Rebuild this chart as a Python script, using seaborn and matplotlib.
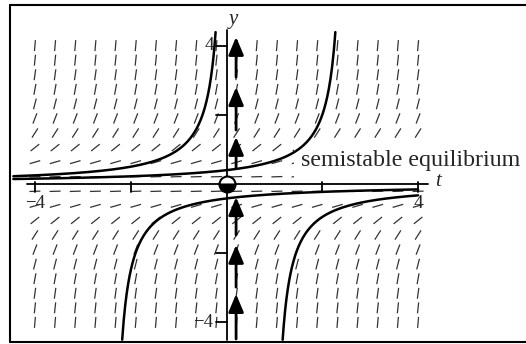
import numpy as np
import pandas as pd
import matplotlib
matplotlib.use("Agg")
import matplotlib.pyplot as plt
from matplotlib.collections import LineCollection
from matplotlib.lines import Line2D
import seaborn as sns

# Direction field of dy/dt = y^2 on a 20 x 20 grid over [-4, 4] x [-4, 4]
grid_t = np.linspace(-4, 4, 20)
grid_y = np.linspace(-4, 4, 20)

# Solution curves y = 1/(c - t): upper branches (start left, blow up) and lower branches
upper_c = [0.0, 2.5]
lower_c = [-2.4, 0.95]

# Phase-line arrows on the y axis (tail, tip), all pointing up
arrow_tails = [3.09, 1.56, 0.46, -1.47, -2.98, -4.48]
arrow_tips = [4.25, 2.80, 1.36, -0.38, -1.76, -3.18]

x_ticks = [-4, -2, 2, 4]
y_ticks = [-4, -2, 2, 4]
x_tick_labels = {-4: "\u22124", 4: "4"}
y_tick_labels = {-4: "\u22124", 4: "4"}

sns.set_theme(style="white")
plt.rcParams["font.family"] = ["Liberation Serif", "DejaVu Serif"]

W, H = 526, 344
fig = plt.figure(figsize=(W / 100, H / 100), dpi=100)
ax = fig.add_axes([0, 0, 1, 1])
xlim = (-4.729, 6.253)
ylim = (-4.624, 5.318)
ax.set_xlim(*xlim)
ax.set_ylim(*ylim)
ax.axis("off")

sx = W / (xlim[1] - xlim[0])  # pixels per t unit
sy = H / (ylim[1] - ylim[0])  # pixels per y unit

# slope marks of fixed on-screen length
seg_len = 11.0
segs = []
for t in grid_t:
    for y in grid_y:
        slope = y ** 2
        dx, dy = sx, sy * slope
        n = np.hypot(dx, dy)
        ht = 0.5 * seg_len * dx / n / sx
        hy = 0.5 * seg_len * dy / n / sy
        segs.append([(t - ht, y - hy), (t + ht, y + hy)])
ax.add_collection(LineCollection(segs, colors="#333333", linewidths=0.9, zorder=2))

# axes
ax.plot([-4.17, 4.2], [0, 0], color="black", lw=1.3, zorder=3)
ax.plot([0, 0], [-4.5, 4.45], color="black", lw=1.3, zorder=3)
for xt in x_ticks:
    ax.plot([xt, xt], [0.05, -0.23], color="black", lw=1.3, zorder=3)
for yt in y_ticks:
    ax.plot([0, -0.21], [yt, yt], color="black", lw=1.3, zorder=3)
for xt, lab in x_tick_labels.items():
    ax.text(xt, -0.55, lab, ha="center", va="center", fontsize=13.5, zorder=4)
for yt, lab in y_tick_labels.items():
    ax.text(-0.27, yt, lab, ha="right", va="center", fontsize=13.5, zorder=4)
ax.text(0.14, 4.74, "y", ha="center", va="center", fontsize=15, style="italic", zorder=12)
ax.text(4.42, 0.08, "t", ha="center", va="center", fontsize=15, style="italic", zorder=12)

ax.text(1.555, 0.52, "semistable equilibrium", ha="left", va="baseline",
        fontsize=17.3, zorder=8,
        bbox=dict(boxstyle="square,pad=0.3", fc="white", ec="none"))

# solution curves
y_top, y_bot = 4.39, -4.5
frames = []
for i, c in enumerate(upper_c):
    t = np.linspace(-4.45, c - 1 / y_top, 400)
    frames.append(pd.DataFrame({"t": t, "y": 1 / (c - t), "curve": f"u{i}"}))
for i, c in enumerate(lower_c):
    t = np.linspace(c - 1 / y_bot, 4.0, 400)
    frames.append(pd.DataFrame({"t": t, "y": 1 / (c - t), "curve": f"l{i}"}))
curves = pd.concat(frames, ignore_index=True)
sns.lineplot(data=curves, x="t", y="y", units="curve", estimator=None, sort=False,
             color="black", lw=1.8, ax=ax, zorder=9, legend=False)

# phase line
px = 0.2
for tail, tip in zip(arrow_tails, arrow_tips):
    ax.annotate("", xy=(px, tip), xytext=(px, tail),
                arrowprops=dict(arrowstyle="-|>,head_length=0.9,head_width=0.38",
                                lw=2.0, color="black", shrinkA=0, shrinkB=0),
                zorder=10)
ax.plot([0], [0], marker="o", markersize=11.5, fillstyle="bottom",
        markerfacecolor="black", markerfacecoloralt="white",
        markeredgecolor="black", markeredgewidth=1.5, zorder=11)

# outer frame
lw_frame = 1.5
fig.add_artist(Line2D([10 / W, 10 / W], [2 / H, 339 / H], color="black", lw=lw_frame))
fig.add_artist(Line2D([10 / W, 1.01], [339 / H, 339 / H], color="black", lw=lw_frame))
fig.add_artist(Line2D([10 / W, 1.01], [2 / H, 2 / H], color="black", lw=lw_frame))

fig.savefig("out.png", dpi=100)
